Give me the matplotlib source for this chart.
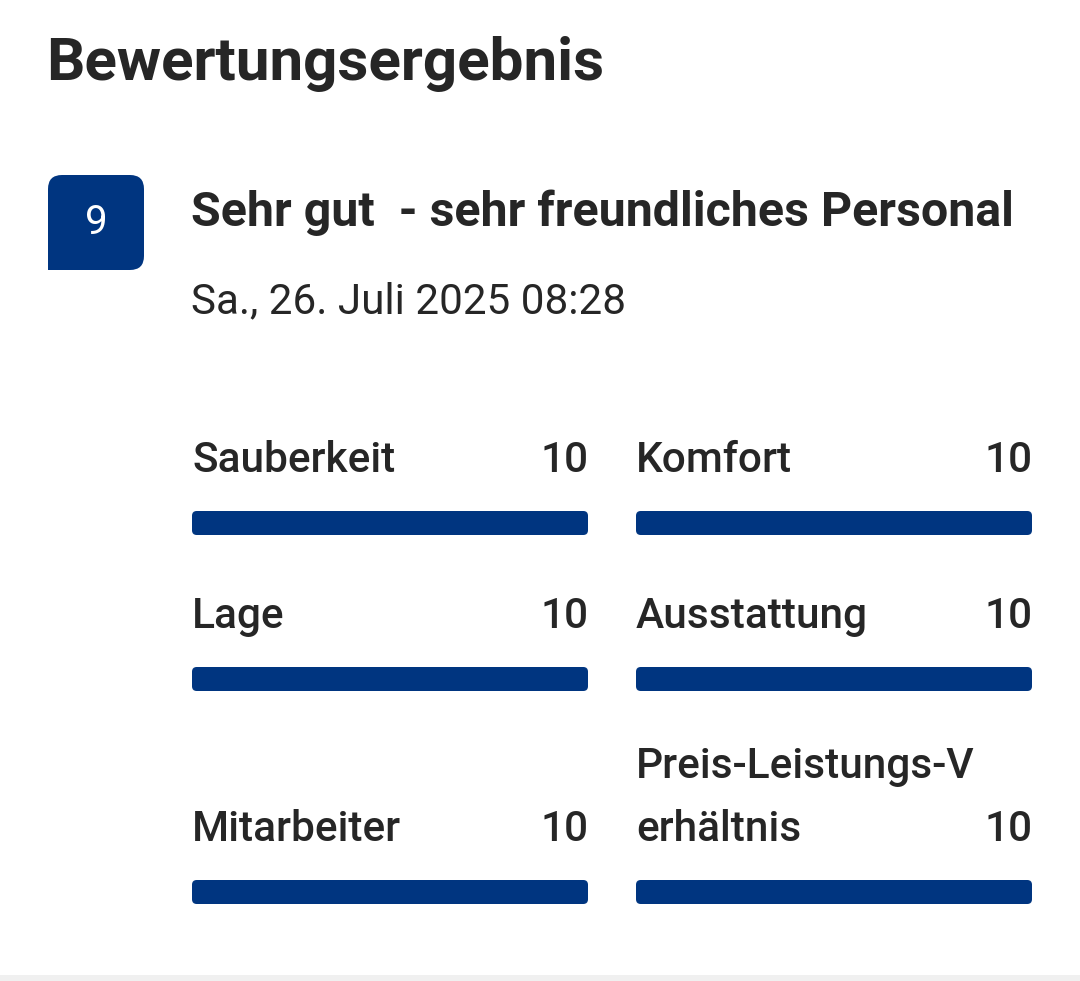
import matplotlib.pyplot as plt
from matplotlib.patches import FancyBboxPatch

# data
title = "Bewertungsergebnis"
score = 9
headline = "Sehr gut  - sehr freundliches Personal"
date_text = "Sa., 26. Juli 2025 08:28"
categories = ["Sauberkeit", "Komfort", "Lage", "Ausstattung",
              "Mitarbeiter", "Preis-Leistungs-Verhältnis"]
values = [10, 10, 10, 10, 10, 10]
max_value = 10

BLUE = "#003580"
TEXT = "#262626"
W, H = 1080, 981

plt.rcParams['font.family'] = ['Roboto', 'DejaVu Sans']

fig = plt.figure(figsize=(W / 100, H / 100), dpi=100)
fig.patch.set_facecolor("white")

# overlay in pixel coordinates for the text layout
ax = fig.add_axes([0, 0, 1, 1])
ax.set_xlim(0, W)
ax.set_ylim(H, 0)
ax.axis('off')

ax.text(46, 64, title, fontsize=43.3, fontweight='bold', color=TEXT, va='center')

# score badge (square bottom-left corner)
badge = FancyBboxPatch((48, 175), 96, 95, boxstyle="round,pad=0,rounding_size=14",
                       fc=BLUE, ec='none')
ax.add_patch(badge)
ax.add_patch(plt.Rectangle((48, 240), 30, 30, fc=BLUE, ec='none'))
ax.text(96, 222, str(score), fontsize=29, color='white', ha='center', va='center')

ax.text(191, 213, headline, fontsize=34.8, fontweight='bold', color=TEXT, va='center')
ax.text(191, 302, date_text, fontsize=30.3, color=TEXT, va='center')

# gray separator at the bottom
ax.add_patch(plt.Rectangle((0, 975), W, 6, fc="#f0f0f0", ec='none'))

col_x = [192, 636]
bar_w = 396
bar_h = 24
bar_tops = [511, 667, 880]
line_gap = 63
fs = 30.5

for i, (name, val) in enumerate(zip(categories, values)):
    row, col = divmod(i, 2)
    x0 = col_x[col]
    top = bar_tops[row]
    base = top - 39
    lines = [name[j:j + 17] for j in range(0, len(name), 17)]
    for k, line in enumerate(reversed(lines)):
        ax.text(x0, base - k * line_gap, line, fontsize=fs, fontweight='medium',
                color=TEXT, va='baseline')
    ax.text(x0 + bar_w + 1, base, str(val), fontsize=fs, fontweight='medium',
            color=TEXT, va='baseline', ha='right')

    # one small axes per bar, the value scaled against max_value
    bax = fig.add_axes([x0 / W, 1 - (top + bar_h) / H, bar_w / W, bar_h / H])
    bax.set_xlim(0, max_value)
    bax.set_ylim(0, 1)
    bax.axis('off')
    aspect = (1 / bar_h) / (max_value / bar_w)
    bax.add_patch(FancyBboxPatch((0, 0), val, 1,
                                 boxstyle="round,pad=0,rounding_size=0.12",
                                 mutation_aspect=aspect, fc=BLUE, ec='none'))

fig.savefig("out.png", dpi=100, facecolor="white")
